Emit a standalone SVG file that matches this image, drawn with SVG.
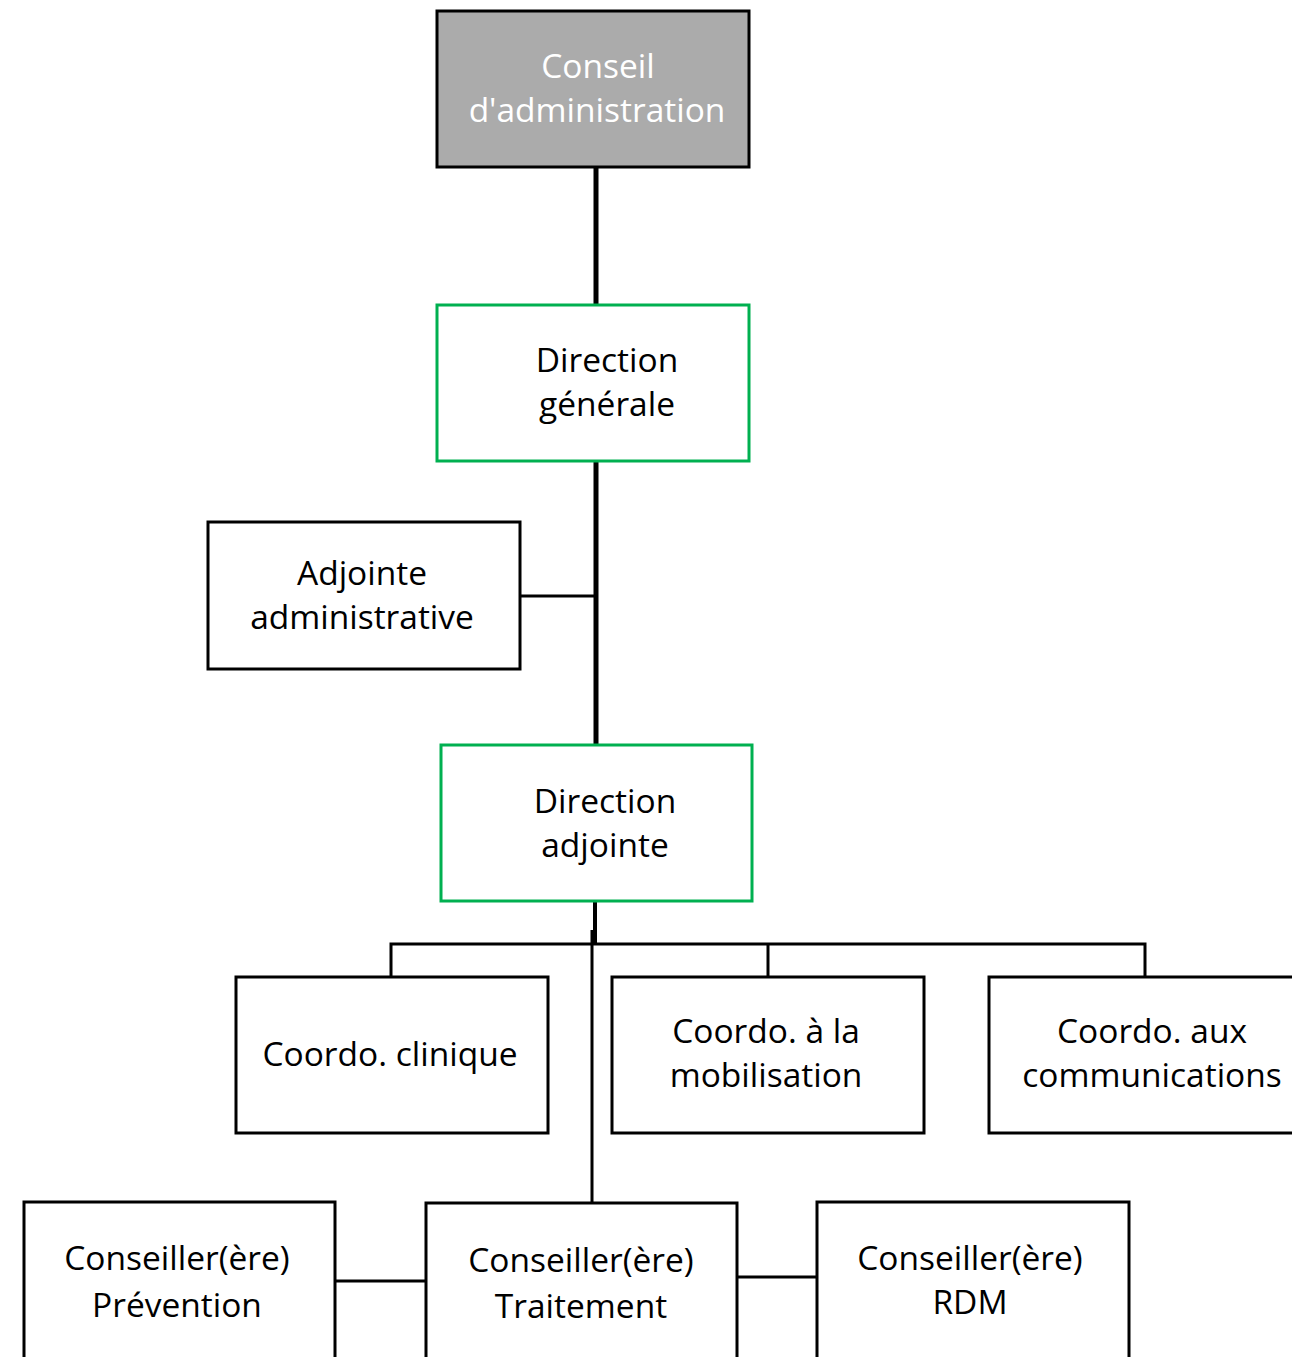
<svg xmlns="http://www.w3.org/2000/svg" width="1292" height="1357" viewBox="0 0 1292 1357">
<style>
.box{fill:#fff;stroke:#000;stroke-width:3}
.green{fill:#fff;stroke:#00b050;stroke-width:3}
.grey{fill:#ababab;stroke:#000;stroke-width:3}
text{font-family:"Open Sans","Noto Sans",sans-serif;font-size:33.5px;text-anchor:middle;fill:#000}
.white{fill:#fff}
.c{stroke:#000;fill:none}
</style>
<rect width="1292" height="1357" fill="#fff"/>
<g id="connectors">
<line class="c" x1="596" y1="167" x2="596" y2="305" stroke-width="5"/>
<line class="c" x1="596" y1="461" x2="596" y2="745" stroke-width="5"/>
<line class="c" x1="520" y1="596" x2="596" y2="596" stroke-width="3"/>
<line class="c" x1="595" y1="901" x2="595" y2="944" stroke-width="4"/>
<polyline class="c" points="391,977 391,944 1145,944 1145,977" stroke-width="3"/>
<line class="c" x1="768" y1="944" x2="768" y2="977" stroke-width="3"/>
<line class="c" x1="592" y1="930" x2="592" y2="1207" stroke-width="3"/>
<line class="c" x1="332" y1="1281" x2="433" y2="1281" stroke-width="3"/>
<line class="c" x1="730" y1="1277" x2="817" y2="1277" stroke-width="3"/>
</g>
<g id="n-conseil"><rect class="grey" x="437" y="11" width="312" height="156"/><text class="white" x="598" y="78">Conseil</text><text class="white" x="597" y="122">d'administration</text></g>
<g id="n-dg"><rect class="green" x="437" y="305" width="312" height="156"/><text x="607" y="372">Direction</text><text x="607" y="416">générale</text></g>
<g id="n-adjointe"><rect class="box" x="208" y="522" width="312" height="147"/><text x="362" y="585">Adjointe</text><text x="362" y="629">administrative</text></g>
<g id="n-da"><rect class="green" x="441" y="745" width="311" height="156"/><text x="605" y="813">Direction</text><text x="605" y="857">adjointe</text></g>
<g id="n-clinique"><rect class="box" x="236" y="977" width="312" height="156"/><text x="390" y="1066">Coordo. clinique</text></g>
<g id="n-mobilisation"><rect class="box" x="612" y="977" width="312" height="156"/><text x="766" y="1043">Coordo. à la</text><text x="766" y="1087">mobilisation</text></g>
<g id="n-communications"><rect class="box" x="989" y="977" width="320" height="156"/><text x="1152" y="1043">Coordo. aux</text><text x="1152" y="1087">communications</text></g>
<g id="n-prevention"><rect class="box" x="24" y="1202" width="311" height="170"/><text x="177" y="1270">Conseiller(ère)</text><text x="177" y="1317">Prévention</text></g>
<g id="n-traitement"><rect class="box" x="426" y="1203" width="311" height="170"/><text x="581" y="1272">Conseiller(ère)</text><text x="581" y="1318">Traitement</text></g>
<g id="n-rdm"><rect class="box" x="817" y="1202" width="312" height="170"/><text x="970" y="1270">Conseiller(ère)</text><text x="970" y="1314">RDM</text></g>
</svg>
